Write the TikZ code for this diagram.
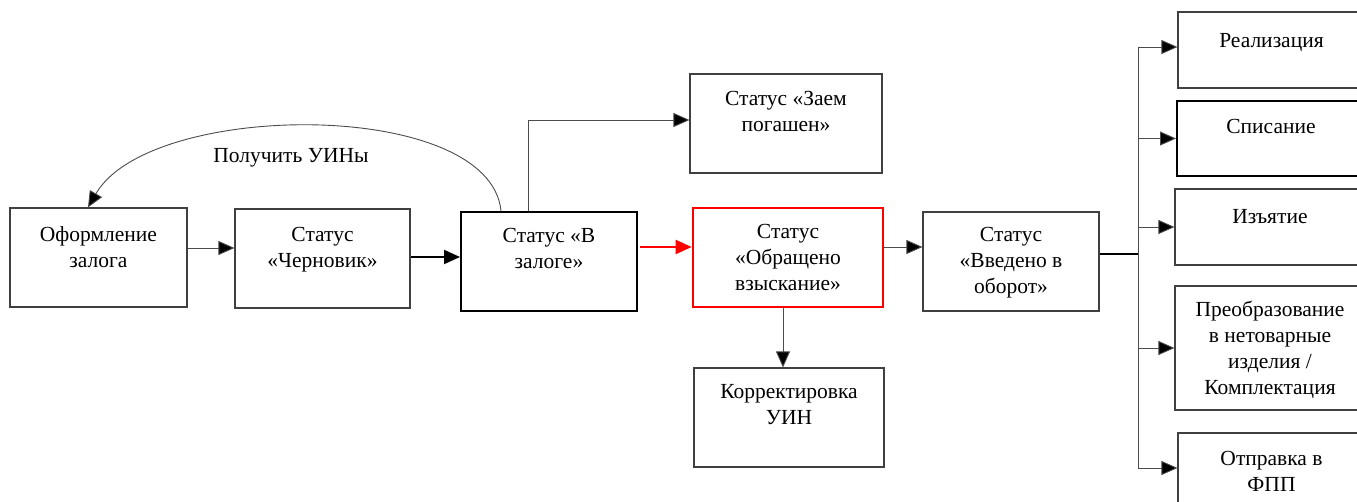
\documentclass[tikz,border=0pt]{standalone}
\usepackage{fontspec}
\setmainfont{Liberation Serif}
\usetikzlibrary{arrows.meta,calc}
\begin{document}
\begin{tikzpicture}[x=1pt,y=-1pt,
  box/.style={draw=black!75, line width=1.1pt, inner sep=0pt, rectangle},
  boldbox/.style={draw=black, line width=2pt, inner sep=0pt, rectangle},
  redbox/.style={draw=red, line width=2.6pt, inner sep=0pt, rectangle},
  txt/.style={font=\fontsize{21.5}{26}\selectfont, align=center, inner sep=0pt, anchor=north},
  arr/.style={draw=black!70, line width=0.9pt, -{Triangle[length=16pt,width=14pt,fill=black]}},
  tharr/.style={draw=black, line width=2pt, -{Triangle[length=16pt,width=14pt,fill=black]}},
  redarr/.style={draw=red, line width=2.2pt, -{Triangle[length=16pt,width=14pt,fill=red]}},
  ln/.style={draw=black!70, line width=0.9pt},
  thln/.style={draw=black, line width=2pt}
]
\useasboundingbox (0,0) rectangle (1357,502);
\clip (0,0) rectangle (1357,502);

% boxes
\node[box, minimum width=177pt, minimum height=99pt] (ofo) at (98.5,257.5) {};
\node[box, minimum width=175pt, minimum height=99pt] (cher) at (322.5,258.5) {};
\node[boldbox, minimum width=176pt, minimum height=99pt] (zal) at (549,261.5) {};
\node[box, minimum width=192pt, minimum height=99pt] (zaem) at (786,123.5) {};
\node[redbox, minimum width=190pt, minimum height=99pt] (obr) at (788,257.5) {};
\node[box, minimum width=190pt, minimum height=99pt] (korr) at (789,417.5) {};
\node[box, minimum width=176pt, minimum height=99pt] (vved) at (1011,261.5) {};
\node[box, minimum width=187pt, minimum height=76pt] (real) at (1271.5,50) {};
\node[boldbox, minimum width=188pt, minimum height=75pt] (spis) at (1271,138.5) {};
\node[box, minimum width=190pt, minimum height=76pt] (izy) at (1270,227) {};
\node[box, minimum width=190pt, minimum height=124pt] (preo) at (1270,348) {};
\node[box, minimum width=187pt, minimum height=77pt] (otpr) at (1271.5,471.5) {};

% texts
\node[txt] (tofo) at ($(ofo.north)+(0,19)$) {Оформление\\залога};
\node[txt] (tcher) at ($(cher.north)+(0,19)$) {Статус\\«Черновик»};
\node[txt] (tzal) at ($(zal.north)+(0,17)$) {Статус «В\\залоге»};
\node[txt] (tzaem) at ($(zaem.north)+(0,18)$) {Статус «Заем\\погашен»};
\node[txt] (tobr) at ($(obr.north)+(0,17)$) {Статус\\«Обращено\\взыскание»};
\node[txt] (tkorr) at ($(korr.north)+(0,17)$) {Корректировка\\УИН};
\node[txt] (tvved) at ($(vved.north)+(0,16)$) {Статус\\«Введено в\\оборот»};
\node[txt] (treal) at ($(real.north)+(0,22)$) {Реализация};
\node[txt] (tspis) at ($(spis.north)+(0,19)$) {Списание};
\node[txt] (tizy) at ($(izy.north)+(0,21)$) {Изъятие};
\node[txt] (tpreo) at ($(preo.north)+(0,15)$) {Преобразование\\в нетоварные\\изделия /\\Комплектация};
\node[txt] (totpr) at ($(otpr.north)+(0,19)$) {Отправка в\\ФПП};

% helper coordinates
\coordinate (y1) at (0,248);
\coordinate (y2) at (0,257);
\coordinate (y3) at (0,247);
\coordinate (y4) at (0,247);
\coordinate (yb) at (0,254);
\coordinate (yz) at (0,120);
\coordinate (xz) at (528,0);
\coordinate (xc) at (501,0);
\coordinate (xe) at (88,0);
\coordinate (xk) at (783,0);
\coordinate (bus) at (1138,0);
\coordinate (ytop) at (0,47);
\coordinate (ybot) at (0,468);

% connectors
\draw[arr] (ofo.east |- y1) -- (cher.west |- y1);
\draw[tharr] (cher.east |- y2) -- (zal.west |- y2);
\draw[redarr] ([xshift=2pt]zal.east |- y3) -- (obr.west |- y3);
\draw[arr] (obr.east |- y4) -- (vved.west |- y4);
\draw[arr] (obr.south -| xk) -- (korr.north -| xk);
\draw[arr] (zal.north -| xz) -- (xz |- yz) -- (zaem.west |- yz);
\draw[arr] (zal.north -| xc) .. controls (490,98) and (150,100) .. (ofo.north -| xe);
\node[font=\fontsize{21.5}{26}\selectfont, inner sep=0pt] (lbl) at (291,158) {Получить УИНы};

\draw[thln] (vved.east |- yb) -- (bus |- yb);
\draw[ln] (bus |- ytop) -- (bus |- ybot);
\draw[arr] (bus |- ytop) -- (real.west |- ytop);
\draw[arr] (bus |- spis.west) -- (spis.west);
\draw[arr] (bus |- izy.west) -- (izy.west);
\draw[arr] (bus |- preo.west) -- (preo.west);
\draw[arr] (bus |- ybot) -- (otpr.west |- ybot);
\end{tikzpicture}
\end{document}
